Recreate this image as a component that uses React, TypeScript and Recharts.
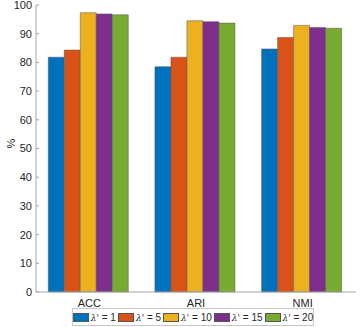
import React from "react";
import { BarChart, Bar, XAxis, YAxis, Label } from "recharts";

const metrics = ["ACC", "ARI", "NMI"];
const lambdaValues = [1, 5, 10, 15, 20];
const colors = ["#0072BD", "#D95319", "#EDB120", "#7E2F8E", "#77AC30"];

const lambda1 = [81.8, 78.5, 84.7];
const lambda5 = [84.3, 81.8, 88.7];
const lambda10 = [97.3, 94.5, 92.9];
const lambda15 = [96.9, 94.2, 92.2];
const lambda20 = [96.6, 93.7, 91.9];

const yTicks = [0, 10, 20, 30, 40, 50, 60, 70, 80, 90, 100];

const seriesValues = [lambda1, lambda5, lambda10, lambda15, lambda20];

const data = metrics.map((m, i) => {
  const row: any = { name: m };
  seriesValues.forEach((vals, k) => {
    row["l" + lambdaValues[k]] = vals[i];
  });
  return row;
});

const font = "'Liberation Sans', Arial, Helvetica, sans-serif";
const axisColor = "#a6a6a6";
const textColor = "#262626";

const noTick = () => <g />;

export default function App() {
  return (
    <div style={{ position: "absolute", left: 0, top: 0, width: 360, height: 327, background: "#fff", fontFamily: font }}>
      <BarChart
        width={360}
        height={327}
        data={data}
        margin={{ top: 5, right: 4, bottom: 0, left: 0 }}
        barCategoryGap="11.5%"
        barGap={0}
      >
        <XAxis
          dataKey="name"
          xAxisId="bottom"
          height={35}
          stroke={axisColor}
          tickSize={-3}
          tickMargin={10}
          tick={{ fill: textColor, fontSize: 11, fontFamily: font }}
        />
        <XAxis
          dataKey="name"
          xAxisId="top"
          orientation="top"
          height={0}
          stroke={axisColor}
          tickSize={-3}
          tick={noTick}
        />
        <YAxis
          yAxisId="left"
          width={36}
          domain={[0, 100]}
          ticks={yTicks}
          interval={0}
          stroke={axisColor}
          tickSize={-3}
          tickMargin={7}
          tick={{ fill: textColor, fontSize: 11, fontFamily: font }}
        >
          <Label value="%" angle={-90} position="insideLeft" offset={11} style={{ fill: textColor, fontSize: 11, fontFamily: font }} />
        </YAxis>
        <YAxis
          yAxisId="right"
          orientation="right"
          width={0}
          domain={[0, 100]}
          ticks={yTicks}
          interval={0}
          stroke={axisColor}
          tickSize={-3}
          tick={noTick}
        />
        {lambdaValues.map((l, k) => (
          <Bar
            key={l}
            dataKey={"l" + l}
            xAxisId="bottom"
            yAxisId="left"
            fill={colors[k]}
            stroke="#555"
            strokeWidth={0.5}
            isAnimationActive={false}
          />
        ))}
      </BarChart>
      <div
        style={{
          position: "absolute",
          left: 72,
          top: 308,
          width: 242,
          height: 18,
          boxSizing: "border-box",
          border: "1px solid #c8c8c8",
          display: "flex",
          alignItems: "center",
          justifyContent: "center",
          fontSize: 10,
          color: textColor,
          background: "#fff",
        }}
      >
        {lambdaValues.map((l, k) => (
          <div key={l} style={{ display: "flex", alignItems: "center", marginRight: k < 4 ? 2 : 0 }}>
            <div style={{ width: 16, height: 9, background: colors[k], border: "0.5px solid #555", boxSizing: "border-box", marginRight: 2 }} />
            <span style={{ whiteSpace: "nowrap" }}>
              <span style={{ fontFamily: "'DejaVu Serif', serif", fontStyle: "italic", fontSize: 9 }}>λ'</span> = {l}
            </span>
          </div>
        ))}
      </div>
    </div>
  );
}
